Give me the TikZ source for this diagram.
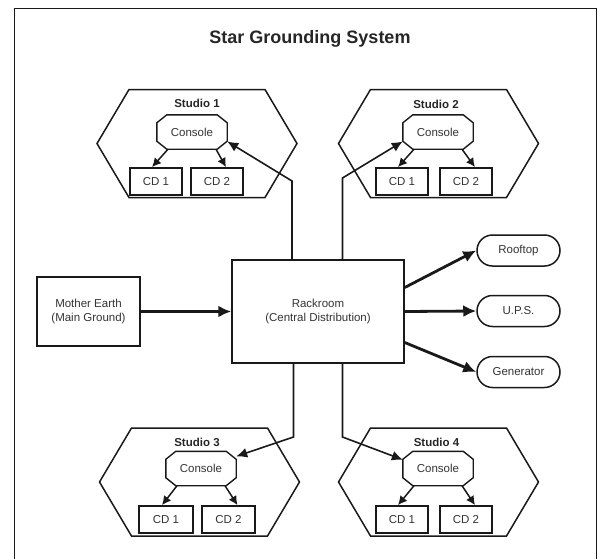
\documentclass[tikz,border=0pt]{standalone}
\usepackage{fontspec}
\setmainfont{Liberation Sans}
\usetikzlibrary{shapes.misc,arrows.meta,calc}
\newcommand\hexstudio[2]{%
  \draw[hexline] ({#1-100},#2) -- ({#1-68},{#2-54}) -- ({#1+68},{#2-54}) --
    ({#1+100},#2) -- ({#1+68},{#2+54}) -- ({#1-68},{#2+54}) -- cycle;}
\newcommand\octaround[1]{%
  \draw[octline] ($(#1.north west)+(10,0)$) -- ($(#1.north east)+(-10,0)$) --
    ($(#1.north east)+(0,8)$) -- ($(#1.south east)+(0,-8)$) --
    ($(#1.south east)+(-10,0)$) -- ($(#1.south west)+(10,0)$) --
    ($(#1.south west)+(0,-8)$) -- ($(#1.north west)+(0,8)$) -- cycle;}
\begin{document}
\begin{tikzpicture}[x=1pt,y=-1pt,
  txt/.style={text=black!80, font=\fontsize{11.5}{13.5}\selectfont, align=center},
  studiolabel/.style={text=black!85, font=\fontsize{11.5}{13.5}\selectfont\bfseries, inner sep=0pt},
  hexline/.style={line width=1.5pt, draw=black!90},
  octline/.style={line width=1.4pt, draw=black!90},
  console/.style={rectangle, minimum width=70pt, minimum height=34pt, inner sep=0pt, txt},
  cdbox/.style={rectangle, draw=black!90, line width=1.8pt, minimum width=52pt, minimum height=27pt, inner sep=0pt, txt},
  bigbox/.style={rectangle, draw=black!90, line width=1.5pt, inner sep=0pt, txt},
  pill/.style={rounded rectangle, draw=black!90, line width=1.5pt, minimum width=83pt, minimum height=31pt, inner sep=0pt, txt},
  conn/.style={line width=1.6pt, draw=black!90, -{Latex[length=11pt,width=10pt]}},
  cdarrow/.style={line width=1.5pt, draw=black!90, -{Latex[length=9pt,width=9pt]}},
  thickarrow/.style={line width=2.8pt, draw=black!90, -{Latex[length=13pt,width=12pt]}},
]
\useasboundingbox (0,0) rectangle (603,558);
% frame
\draw[line width=1.4pt, draw=black!90] (14.7,565) -- (14.7,8.3) -- (596.3,8.3) -- (596.3,565);
% title
\node[text=black!85, font=\fontsize{18}{21}\selectfont\bfseries, inner sep=0pt] (title) at (310,39) {Star Grounding System};

% hexagons
\hexstudio{197}{143.5}
\hexstudio{438.5}{143.5}
\hexstudio{199.5}{482}
\hexstudio{438.5}{482}

% studio labels
\node[studiolabel] (L1) at (197,103) {Studio 1};
\node[studiolabel] (L2) at (436,104) {Studio 2};
\node[studiolabel] (L3) at (197,442) {Studio 3};
\node[studiolabel] (L4) at (436.5,442) {Studio 4};

% consoles
\node[console] (C1) at (192,132) {Console};
\node[console] (C2) at (438,132) {Console};
\node[console] (C3) at (201,468.5) {Console};
\node[console] (C4) at (438,468.5) {Console};
\octaround{C1}
\octaround{C2}
\octaround{C3}
\octaround{C4}

% CD boxes
\node[cdbox] (D11) at (156,181.5) {CD 1};
\node[cdbox] (D12) at (217,181.5) {CD 2};
\node[cdbox] (D21) at (402,181.5) {CD 1};
\node[cdbox] (D22) at (466,181.5) {CD 2};
\node[cdbox, minimum width=54pt] (D31) at (166,519.5) {CD 1};
\node[cdbox, minimum width=53pt] (D32) at (228.5,519.5) {CD 2};
\node[cdbox] (D41) at (402,519.5) {CD 1};
\node[cdbox] (D42) at (466,519.5) {CD 2};

% console to CD arrows
\foreach \c/\a/\b in {C1/D11/D12, C2/D21/D22, C3/D31/D32, C4/D41/D42}{
  \draw[cdarrow] ([xshift=-24pt]\c.south) -- ([xshift=-4pt]\a.north);
  \draw[cdarrow] ([xshift=24pt]\c.south) -- ([xshift=9pt]\b.north);
}

% central boxes
\node[bigbox, minimum width=172pt, minimum height=103pt] (RR) at (318,311.5) {Rackroom\\(Central Distribution)};
\node[bigbox, minimum width=103pt, minimum height=69pt] (ME) at (88.5,311.5) {Mother Earth\\(Main Ground)};

% right side nodes
\node[pill] (Roof) at (518.5,250.5) {Rooftop};
\node[pill] (UPS) at (518.5,311) {U.P.S.};
\node[pill] (Gen) at (518.5,372) {Generator};

% thick arrows
\draw[thickarrow] (ME.east) -- (RR.west);
\draw[thickarrow] ([yshift=24pt]RR.east) -- (Roof.west);
\draw[thickarrow] (RR.east) -- (UPS.west);
\draw[thickarrow] ([yshift=-31pt]RR.east) -- (Gen.west);

% studio connectors
\coordinate (b1) at (292,181);
\coordinate (b2) at (342.5,178);
\coordinate (b3) at (293.5,437);
\coordinate (b4) at (342.5,437);
\draw[conn] (RR.north -| b1) -- (b1) -- (C1.-15);
\draw[conn] (RR.north -| b2) -- (b2) -- (C2.195);
\draw[conn] (RR.south -| b3) -- (b3) -- (C3.19);
\draw[conn] (RR.south -| b4) -- (b4) -- (C4.166);
\end{tikzpicture}
\end{document}
